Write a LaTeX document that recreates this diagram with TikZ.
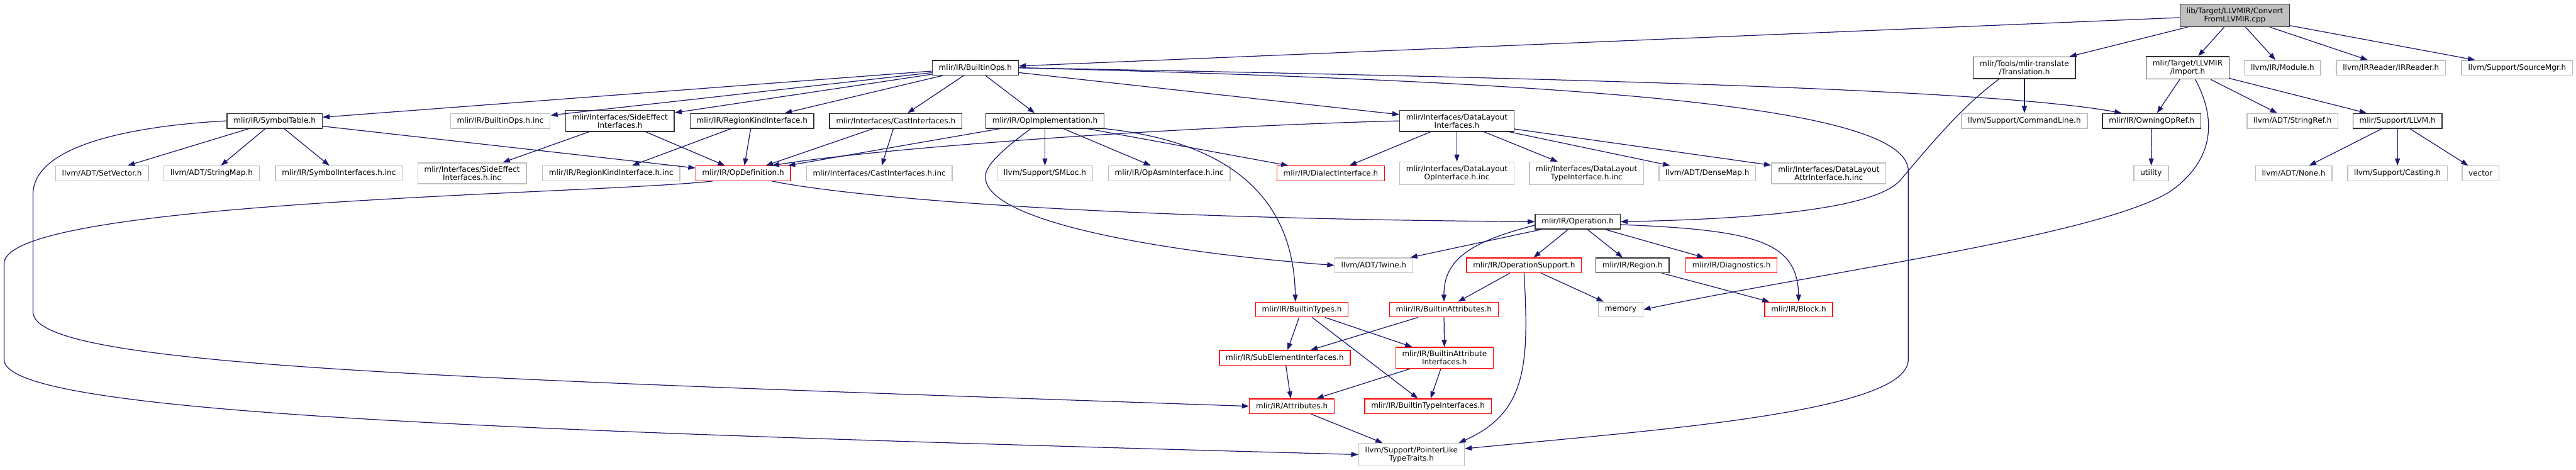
\documentclass[tikz,border=0pt]{standalone}
\usepackage{fontspec}
\setmainfont{DejaVu Sans}
\usepackage{tikz}
\usetikzlibrary{arrows.meta, positioning}
\usepackage{xcolor}
\definecolor{incBlue}{HTML}{191970}
\definecolor{incGray}{HTML}{BFBFBF}
\definecolor{incDark}{HTML}{333333}
\tikzset{
    incBlock/.style={
        draw=incDark, fill=white, line width=0.015cm, align=center, font=\fontsize{3.65}{3.9}\selectfont, inner xsep=0.11cm, inner ysep=0.06cm, minimum height=0.25cm
    },
    incGrayBlock/.style={
        incBlock, draw=incGray
    },
    incRedBlock/.style={
        incBlock, draw=red
    },
    incRootBlock/.style={
        incBlock, fill=incGray
    },
    incArrow/.style={
        -{Triangle[length=0.12cm, width=0.085cm]}, line width=0.013cm, draw=incBlue
    }
}

\begin{document}
\begin{tikzpicture}
    \useasboundingbox (0,0) rectangle (43.71,-7.97);

    % ── ROOT
    \node[incRootBlock] (convertCpp) at (37.92, -0.26) {lib/Target/LLVMIR/Convert\\FromLLVMIR.cpp};

    % ── ROW 2
    \node[incBlock] (builtinOps) at (16.55, -1.15) {mlir/IR/BuiltinOps.h};
    \node[incBlock] (translationH) at (34.35, -1.15) {mlir/Tools/mlir-translate\\/Translation.h};
    \node[incBlock] (importH) at (37.12, -1.15) {mlir/Target/LLVMIR\\/Import.h};
    \node[incGrayBlock] (moduleH) at (38.73, -1.15) {llvm/IR/Module.h};
    \node[incGrayBlock] (irReaderH) at (40.57, -1.15) {llvm/IRReader/IRReader.h};
    \node[incGrayBlock] (sourceMgrH) at (42.71, -1.15) {llvm/Support/SourceMgr.h};

    % ── ROW 3
    \node[incBlock] (symbolTable) at (4.66, -2.05) {mlir/IR/SymbolTable.h};
    \node[incGrayBlock] (builtinOpsInc) at (8.49, -2.05) {mlir/IR/BuiltinOps.h.inc};
    \node[incBlock] (sideEffectIfc) at (10.52, -2.05) {mlir/Interfaces/SideEffect\\Interfaces.h};
    \node[incBlock] (regionKindIfc) at (12.76, -2.05) {mlir/IR/RegionKindInterface.h};
    \node[incBlock] (castIfc) at (15.20, -2.05) {mlir/Interfaces/CastInterfaces.h};
    \node[incBlock] (opImpl) at (17.73, -2.05) {mlir/IR/OpImplementation.h};
    \node[incBlock] (dataLayoutIfc) at (24.72, -2.05) {mlir/Interfaces/DataLayout\\Interfaces.h};
    \node[incGrayBlock] (commandLine) at (34.35, -2.05) {llvm/Support/CommandLine.h};
    \node[incBlock] (owningOpRef) at (36.51, -2.05) {mlir/IR/OwningOpRef.h};
    \node[incGrayBlock] (stringRef) at (38.90, -2.05) {llvm/ADT/StringRef.h};
    \node[incBlock] (llvmH) at (40.68, -2.05) {mlir/Support/LLVM.h};

    % ── ROW 4
    \node[incGrayBlock] (setVector) at (1.73, -2.94) {llvm/ADT/SetVector.h};
    \node[incGrayBlock] (stringMap) at (3.59, -2.94) {llvm/ADT/StringMap.h};
    \node[incGrayBlock] (symbolIfcInc) at (5.75, -2.94) {mlir/IR/SymbolInterfaces.h.inc};
    \node[incGrayBlock] (sideEffectInc) at (8.01, -2.94) {mlir/Interfaces/SideEffect\\Interfaces.h.inc};
    \node[incGrayBlock] (regionKindInc) at (10.37, -2.94) {mlir/IR/RegionKindInterface.h.inc};
    \node[incRedBlock] (opDefinition) at (12.61, -2.94) {mlir/IR/OpDefinition.h};
    \node[incGrayBlock] (castIfcInc) at (14.92, -2.94) {mlir/Interfaces/CastInterfaces.h.inc};
    \node[incGrayBlock] (smLoc) at (17.73, -2.94) {llvm/Support/SMLoc.h};
    \node[incGrayBlock] (opAsmInc) at (19.84, -2.94) {mlir/IR/OpAsmInterface.h.inc};
    \node[incRedBlock] (dialectIfc) at (22.58, -2.94) {mlir/IR/DialectInterface.h};
    \node[incGrayBlock] (dlOpInc) at (24.72, -2.94) {mlir/Interfaces/DataLayout\\OpInterface.h.inc};
    \node[incGrayBlock] (dlTypeInc) at (26.92, -2.94) {mlir/Interfaces/DataLayout\\TypeInterface.h.inc};
    \node[incGrayBlock] (denseMap) at (28.97, -2.94) {llvm/ADT/DenseMap.h};
    \node[incGrayBlock] (dlAttrInc) at (31.03, -2.94) {mlir/Interfaces/DataLayout\\AttrInterface.h.inc};
    \node[incGrayBlock] (utility) at (36.50, -2.94) {utility};
    \node[incGrayBlock] (noneH) at (38.92, -2.94) {llvm/ADT/None.h};
    \node[incGrayBlock] (castingH) at (40.68, -2.94) {llvm/Support/Casting.h};
    \node[incGrayBlock] (vectorH) at (42.09, -2.94) {vector};

    % ── ROWS 5 TO 10
    \node[incBlock] (operation) at (26.77, -3.76) {mlir/IR/Operation.h};
    \node[incGrayBlock] (twine) at (23.31, -4.50) {llvm/ADT/Twine.h};
    \node[incRedBlock] (opSupport) at (25.86, -4.50) {mlir/IR/OperationSupport.h};
    \node[incBlock] (region) at (27.70, -4.50) {mlir/IR/Region.h};
    \node[incRedBlock] (diagnostics) at (29.38, -4.50) {mlir/IR/Diagnostics.h};
    \node[incRedBlock] (builtinTypes) at (22.09, -5.25) {mlir/IR/BuiltinTypes.h};
    \node[incRedBlock] (builtinAttrs) at (24.50, -5.25) {mlir/IR/BuiltinAttributes.h};
    \node[incGrayBlock] (memory) at (27.50, -5.25) {memory};
    \node[incRedBlock] (block) at (30.52, -5.25) {mlir/IR/Block.h};
    \node[incRedBlock] (subElement) at (21.80, -6.07) {mlir/IR/SubElementInterfaces.h};
    \node[incRedBlock] (builtinAttrIfc) at (24.51, -6.07) {mlir/IR/BuiltinAttribute\\Interfaces.h};
    \node[incRedBlock] (attributes) at (21.92, -6.89) {mlir/IR/Attributes.h};
    \node[incRedBlock] (builtinTypeIfc) at (24.23, -6.89) {mlir/IR/BuiltinTypeInterfaces.h};
    \node[incGrayBlock] (pointerLike) at (23.95, -7.71) {llvm/Support/PointerLike\\TypeTraits.h};

    % ── EDGES FROM ROOT
    \draw[incArrow] (convertCpp) -- (builtinOps);
    \draw[incArrow] (convertCpp) -- (translationH);
    \draw[incArrow] (convertCpp) -- (importH);
    \draw[incArrow] (convertCpp) -- (moduleH);
    \draw[incArrow] (convertCpp) -- (irReaderH);
    \draw[incArrow] (convertCpp) -- (sourceMgrH);

    % ── EDGES FROM BUILTINOPS
    \draw[incArrow] (builtinOps) -- (symbolTable);
    \draw[incArrow] (builtinOps) -- (builtinOpsInc);
    \draw[incArrow] (builtinOps) -- (sideEffectIfc);
    \draw[incArrow] (builtinOps) -- (regionKindIfc);
    \draw[incArrow] (builtinOps) -- (castIfc);
    \draw[incArrow] (builtinOps) -- (opImpl);
    \draw[incArrow] (builtinOps) -- (dataLayoutIfc);
    \draw[incArrow] (builtinOps.east) .. controls (28.0,-1.35) and (34.0,-1.55) .. ([xshift=-0.51cm]owningOpRef.north);
    \draw[incArrow] (builtinOps.east) .. controls (27.0,-1.4) and (32.38,-1.8) .. (32.38,-2.9) -- (32.38,-6.1) .. controls (32.38,-7.0) and (28.0,-7.3) .. ([yshift=0.1cm]pointerLike.east);

    % ── EDGES FROM ROW 3
    \draw[incArrow] (symbolTable) -- (setVector);
    \draw[incArrow] (symbolTable) -- (stringMap);
    \draw[incArrow] (symbolTable) -- (symbolIfcInc);
    \draw[incArrow] (symbolTable) -- (opDefinition);
    \draw[incArrow] (symbolTable.west) .. controls (2.5,-2.12) and (0.56,-2.4) .. (0.56,-3.3) -- (0.56,-5.29) .. controls (0.56,-6.2) and (7.0,-6.4) .. (attributes.west);
    \draw[incArrow] (sideEffectIfc) -- (sideEffectInc);
    \draw[incArrow] (sideEffectIfc) -- (opDefinition);
    \draw[incArrow] (regionKindIfc) -- (regionKindInc);
    \draw[incArrow] (regionKindIfc) -- (opDefinition);
    \draw[incArrow] (castIfc) -- (opDefinition);
    \draw[incArrow] (castIfc) -- (castIfcInc);
    \draw[incArrow] (opImpl) -- (opDefinition);
    \draw[incArrow] (opImpl) -- (smLoc);
    \draw[incArrow] (opImpl) -- (opAsmInc);
    \draw[incArrow] (opImpl) -- (dialectIfc);
    \draw[incArrow] ([xshift=-0.24cm]opImpl.south) .. controls (17.0,-2.55) and (16.72,-2.8) .. (16.72,-3.0) .. controls (16.72,-3.8) and (20.0,-4.3) .. (twine.west);
    \draw[incArrow] (opImpl.south east) .. controls (20.8,-2.4) and (21.95,-3.3) .. ([xshift=-0.11cm]builtinTypes.north);
    \draw[incArrow] (dataLayoutIfc.west) .. controls (20.0,-2.15) and (15.0,-2.5) .. ([xshift=0.49cm]opDefinition.north);
    \draw[incArrow] (dataLayoutIfc) -- (dialectIfc);
    \draw[incArrow] (dataLayoutIfc) -- (dlOpInc);
    \draw[incArrow] (dataLayoutIfc) -- (dlTypeInc);
    \draw[incArrow] (dataLayoutIfc) -- (denseMap);
    \draw[incArrow] (dataLayoutIfc) -- (dlAttrInc);

    % ── EDGES ON THE RIGHT
    \draw[incArrow] (translationH) -- (commandLine);
    \draw[incArrow] ([xshift=-0.43cm]translationH.south) .. controls (33.3,-1.8) and (32.8,-2.4) .. (32.25,-3.05) .. controls (31.8,-3.58) and (29.5,-3.72) .. (operation.east);
    \draw[incArrow] (importH) -- (owningOpRef);
    \draw[incArrow] (importH) -- (stringRef);
    \draw[incArrow] (importH) -- (llvmH);
    \draw[incArrow] ([xshift=0.13cm]importH.south) .. controls (37.6,-2.0) and (37.6,-2.7) .. (36.82,-3.25) .. controls (35.6,-4.0) and (31.0,-4.6) .. (memory.east);
    \draw[incArrow] (owningOpRef) -- (utility);
    \draw[incArrow] (llvmH) -- (noneH);
    \draw[incArrow] (llvmH) -- (castingH);
    \draw[incArrow] (llvmH) -- (vectorH);

    % ── EDGES FROM OPDEFINITION
    \draw[incArrow] ([xshift=0.49cm]opDefinition.south) .. controls (14.2,-3.3) and (18.0,-3.7) .. (operation.west);
    \draw[incArrow] ([xshift=-0.52cm]opDefinition.south) .. controls (10.0,-3.3) and (0.07,-3.4) .. (0.07,-4.47) -- (0.07,-6.1) .. controls (0.07,-7.0) and (8.0,-7.3) .. (pointerLike.west);

    % ── EDGES FROM OPERATION
    \draw[incArrow] (operation) -- (twine);
    \draw[incArrow] (operation) -- (opSupport);
    \draw[incArrow] (operation) -- (region);
    \draw[incArrow] (operation) -- (diagnostics);
    \draw[incArrow] ([yshift=-0.06cm]operation.west) .. controls (24.95,-4.1) and (24.5,-4.4) .. (builtinAttrs.north);
    \draw[incArrow] ([yshift=-0.05cm]operation.east) .. controls (29.8,-3.9) and (30.5,-4.1) .. (block.north);

    % ── LOWER EDGES
    \draw[incArrow] (opSupport) -- (builtinAttrs);
    \draw[incArrow] (opSupport) -- (memory);
    \draw[incArrow] (opSupport.south) .. controls (25.95,-6.2) and (25.9,-7.0) .. ([xshift=-0.1cm]pointerLike.north east);
    \draw[incArrow] (region) -- (block);
    \draw[incArrow] (builtinTypes) -- (subElement);
    \draw[incArrow] (builtinTypes) -- (builtinAttrIfc);
    \draw[incArrow] (builtinTypes) -- (builtinTypeIfc);
    \draw[incArrow] (builtinAttrs) -- (subElement);
    \draw[incArrow] (builtinAttrs) -- (builtinAttrIfc);
    \draw[incArrow] (subElement) -- (attributes);
    \draw[incArrow] (builtinAttrIfc) -- (attributes);
    \draw[incArrow] (builtinAttrIfc) -- (builtinTypeIfc);
    \draw[incArrow] (attributes) -- (pointerLike);
\end{tikzpicture}
\end{document}
